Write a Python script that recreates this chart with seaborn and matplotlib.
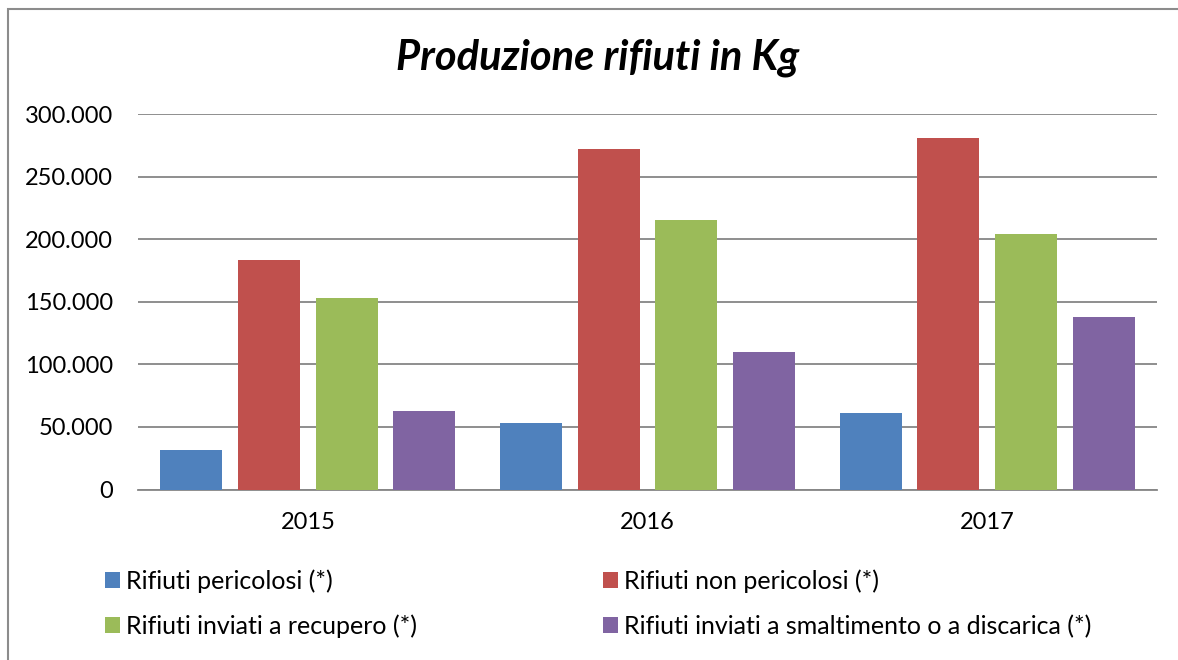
import pandas as pd
import matplotlib.pyplot as plt
import seaborn as sns
from matplotlib.ticker import FuncFormatter
from matplotlib.patches import Rectangle

# dati (kg)
anni = ["2015", "2016", "2017"]
tipi = ["Rifiuti pericolosi (*)", "Rifiuti non pericolosi (*)",
        "Rifiuti inviati a recupero (*)", "Rifiuti inviati a smaltimento o a discarica (*)"]
pericolosi = [32000, 53000, 61300]
non_pericolosi = [183400, 272200, 280800]
recupero = [152800, 215400, 204300]
smaltimento = [62600, 110100, 137900]
colori = ["#4F81BD", "#C0504D", "#9BBB59", "#8064A2"]

serie = [pericolosi, non_pericolosi, recupero, smaltimento]
rows = []
for tipo, valori in zip(tipi, serie):
    for anno, v in zip(anni, valori):
        rows.append({"anno": anno, "kg": v, "tipo": tipo})
df = pd.DataFrame(rows)

sns.set_style("white")
plt.rcParams['font.family'] = ['Lato', 'DejaVu Sans']
plt.rcParams['text.color'] = 'black'

fig = plt.figure(figsize=(11.78, 6.6), dpi=100)
ax = fig.add_axes([138 / 1178, 170.5 / 660, (1157 - 138) / 1178, 375 / 660])

sns.barplot(data=df, x="anno", y="kg", hue="tipo", hue_order=tipi, order=anni,
            palette=colori, saturation=1, width=0.915, gap=0.2, linewidth=0,
            errorbar=None, ax=ax, zorder=3)

ax.set_ylim(0, 300000)
ax.set_yticks(range(0, 300001, 50000))
ax.yaxis.set_major_formatter(FuncFormatter(lambda v, p: f"{int(v):,}".replace(",", ".")))
ax.grid(axis="y", color="#868686", linewidth=1.3, zorder=0)
ax.set_axisbelow(True)
for s in ["top", "right", "left"]:
    ax.spines[s].set_visible(False)
ax.spines["bottom"].set_color("#868686")
ax.spines["bottom"].set_linewidth(1.3)
ax.tick_params(axis="both", length=0, labelsize=17, colors="black")
ax.tick_params(axis="y", pad=18)
ax.tick_params(axis="x", pad=16)
ax.set_xlabel("")
ax.set_ylabel("")

fig.text(598 / 1178, 1 - 58 / 660, "Produzione rifiuti in Kg", ha="center", va="center",
         fontsize=30, fontweight="bold", fontstyle="italic", color="black")

handles, labels = ax.get_legend_handles_labels()
ax.get_legend().remove()
idx = [0, 2, 1, 3]
fig.legend([handles[i] for i in idx], [labels[i] for i in idx], ncol=2,
           loc="upper left", bbox_to_anchor=(82 / 1178, 1 - 547 / 660),
           frameon=False, fontsize=18, handlelength=0.6, handleheight=0.6,
           handletextpad=0.28, columnspacing=7.4, labelspacing=0.86)

# cornice esterna
fig.patches.append(Rectangle((7.5 / 1178, -0.1), 1.2, 1 - 8.5 / 660 + 0.1,
                             transform=fig.transFigure, fill=False,
                             edgecolor="#8c8c8c", linewidth=1.5))

fig.savefig("out.png", dpi=100)
